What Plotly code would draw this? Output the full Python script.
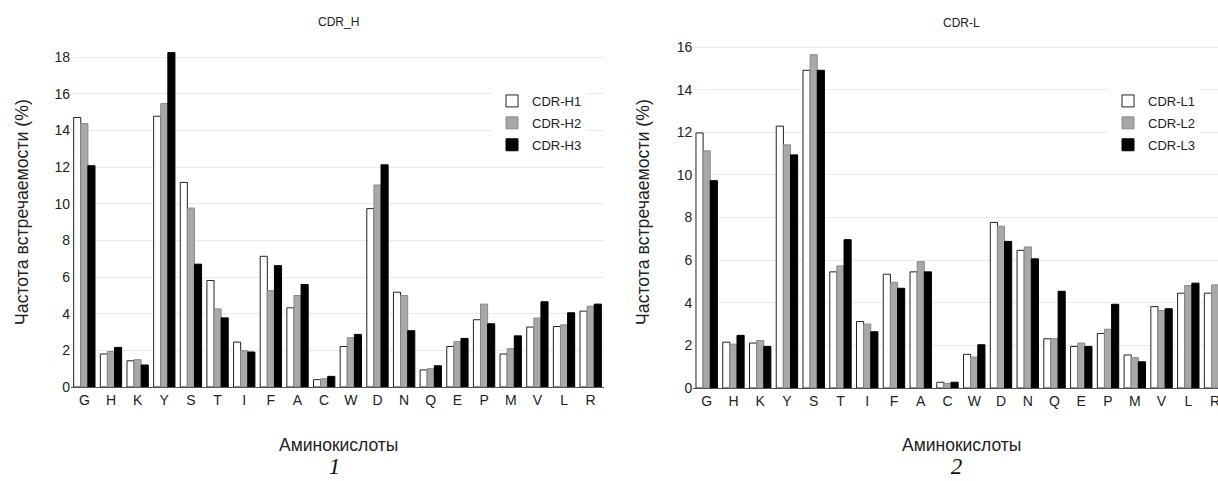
import plotly.graph_objects as go

amino = ["G", "H", "K", "Y", "S", "T", "I", "F", "A", "C",
         "W", "D", "N", "Q", "E", "P", "M", "V", "L", "R"]

cdr_h1 = [14.70, 1.80, 1.43, 14.77, 11.16, 5.81, 2.45, 7.13, 4.32, 0.40,
          2.21, 9.73, 5.17, 0.93, 2.21, 3.67, 1.80, 3.27, 3.30, 4.14]
cdr_h2 = [14.37, 1.94, 1.49, 15.46, 9.76, 4.26, 1.98, 5.26, 4.99, 0.45,
          2.69, 11.02, 4.99, 1.00, 2.47, 4.52, 2.09, 3.76, 3.39, 4.41]
cdr_h3 = [12.07, 2.16, 1.20, 18.24, 6.70, 3.77, 1.91, 6.62, 5.59, 0.58,
          2.87, 12.12, 3.07, 1.16, 2.65, 3.45, 2.79, 4.65, 4.05, 4.52]

cdr_l1 = [11.97, 2.15, 2.11, 12.29, 14.91, 5.45, 3.12, 5.34, 5.45, 0.27,
          1.58, 7.77, 6.46, 2.31, 1.95, 2.56, 1.55, 3.82, 4.45, 4.45]
cdr_l2 = [11.13, 2.06, 2.23, 11.41, 15.64, 5.73, 3.00, 4.96, 5.93, 0.22,
          1.45, 7.59, 6.62, 2.31, 2.11, 2.76, 1.42, 3.64, 4.81, 4.84]
cdr_l3 = [9.73, 2.47, 1.95, 10.94, 14.91, 6.96, 2.64, 4.68, 5.45, 0.27,
          2.03, 6.88, 6.06, 4.54, 1.95, 3.93, 1.23, 3.72, 4.92, 4.90]

names_h = ["CDR-H1", "CDR-H2", "CDR-H3"]
names_l = ["CDR-L1", "CDR-L2", "CDR-L3"]
panel_labels = ["1", "2"]

W, H = 1218, 481
FONT = "Liberation Sans, Arial, sans-serif"

fills = ["#ffffff", "#a8a8a8", "#000000"]
edges = ["#222222", "#8a8a8a", "#000000"]


def px(x):
    return x / W


def py(y):
    return 1 - y / H


fig = go.Figure()

for i, (name, vals) in enumerate(zip(names_h, [cdr_h1, cdr_h2, cdr_h3])):
    fig.add_trace(go.Bar(
        x=amino, y=vals, name=name,
        marker=dict(color=fills[i], line=dict(color=edges[i], width=1)),
        xaxis="x", yaxis="y", legend="legend", legendgroup="h%d" % i,
    ))

for i, (name, vals) in enumerate(zip(names_l, [cdr_l1, cdr_l2, cdr_l3])):
    fig.add_trace(go.Bar(
        x=amino, y=vals, name=name,
        marker=dict(color=fills[i], line=dict(color=edges[i], width=1)),
        xaxis="x2", yaxis="y2", legend="legend2", legendgroup="l%d" % i,
    ))

xcommon = dict(
    type="category", showgrid=False, showline=True, linecolor="#555555",
    linewidth=1, ticks="", zeroline=False, automargin=False,
    tickfont=dict(family=FONT, size=14, color="#222222"),
)
ycommon = dict(
    showgrid=True, gridcolor="#ebebeb", gridwidth=1, showline=False,
    zeroline=False, ticks="", dtick=2, automargin=False,
    tickfont=dict(family=FONT, size=14, color="#222222"),
)

leg_common = dict(
    bgcolor="#ffffff", borderwidth=0, font=dict(family=FONT, size=13, color="#222222"),
    xanchor="left", yanchor="top", tracegroupgap=2, traceorder="grouped",
)

fig.update_layout(
    template="none",
    width=W, height=H,
    margin=dict(l=0, r=0, t=0, b=0),
    paper_bgcolor="#ffffff", plot_bgcolor="#ffffff",
    barmode="group", bargap=0.2, bargroupgap=0,
    font=dict(family=FONT, color="#222222"),
    xaxis=dict(xcommon, domain=[px(71), px(604)], range=[-0.5, 19.5], anchor="y"),
    yaxis=dict(ycommon, domain=[py(387), py(38.7)], range=[0, 19], anchor="x"),
    xaxis2=dict(xcommon, domain=[px(693.3), 1.0], range=[-0.5, 19.11], anchor="y2"),
    yaxis2=dict(ycommon, domain=[py(388), py(42.8)], range=[0, 16.2], anchor="x2"),
    legend=dict(leg_common, x=px(492), y=py(86)),
    legend2=dict(leg_common, x=px(1108), y=py(86)),
    showlegend=True,
)

ann = [
    dict(text="CDR_H", x=px(338), y=py(22), size=12),
    dict(text="CDR-L", x=px(961), y=py(23), size=12),
    dict(text="Аминокислоты", x=px(338), y=py(445), size=17.5),
    dict(text="Аминокислоты", x=px(961), y=py(445), size=17.5),
]
for a in ann:
    fig.add_annotation(text=a["text"], x=a["x"], y=a["y"], xref="paper", yref="paper",
                       xanchor="center", yanchor="middle", showarrow=False,
                       font=dict(family=FONT, size=a["size"], color="#222222"))

for xx in (22, 643):
    fig.add_annotation(text="Частота встречаемости (%)", x=px(xx), y=py(212),
                       xref="paper", yref="paper", textangle=-90,
                       xanchor="center", yanchor="middle", showarrow=False,
                       font=dict(family=FONT, size=17.7, color="#222222"))

for label, xx in zip(panel_labels, (334, 956)):
    fig.add_annotation(text="\u00a0" + label + "\u00a0", x=px(xx), y=0.002,
                       xref="paper", yref="paper", xanchor="center", yanchor="bottom",
                       showarrow=False, borderpad=0,
                       font=dict(family="Liberation Serif, Times New Roman, serif",
                                 size=23, color="#111111", style="italic"))

fig.write_html(
    "out.html",
    config={"displayModeBar": False},
    post_script="document.body.style.margin='0';document.body.style.padding='0';"
                "document.body.style.overflow='hidden';",
)
